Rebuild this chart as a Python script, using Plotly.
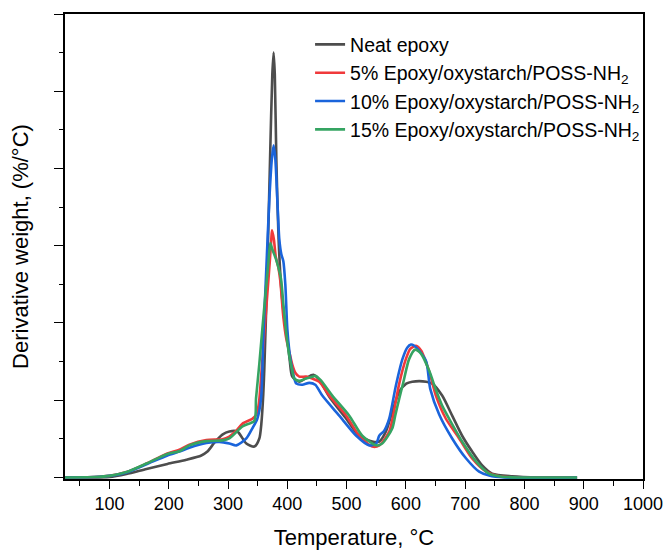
import plotly.graph_objects as go

# ---------------- data ----------------
T_neat = [24.2, 49.4, 100, 128.7, 162.4, 197.8, 229.8, 255, 265.2, 277, 290.5, 302.2, 315.7, 330.9,
          344.4, 352.8, 356.2, 359.5, 361.2, 366.3, 371.3, 374.7, 376.9, 378.9, 381.5, 385.3, 389.9,
          394.9, 400, 404.2, 408.4, 420.2, 432, 443.8, 453.9, 470.8, 499.4, 521.3, 543.3, 555.1, 566.9,
          577, 588.8, 600.6, 610.7, 634.3, 644.4, 661.2, 678.1, 694.9, 711.8, 728.7, 745.5, 779.2,
          824.7, 888.8]
D_neat = [0, 0, 0.001, 0.009, 0.022, 0.035, 0.046, 0.057, 0.067, 0.090, 0.111, 0.119, 0.119, 0.088,
          0.080, 0.101, 0.139, 0.217, 0.281, 0.540, 0.849, 1.043, 1.100, 1.043, 0.824, 0.617, 0.488,
          0.411, 0.359, 0.302, 0.261, 0.248, 0.258, 0.266, 0.253, 0.209, 0.152, 0.108, 0.093, 0.093,
          0.121, 0.170, 0.222, 0.243, 0.248, 0.248, 0.243, 0.212, 0.160, 0.108, 0.067, 0.031, 0.010,
          0.003, 0, 0]

T_5 = [24.2, 74.7, 100, 128.7, 162.4, 197.8, 218, 234.8, 263.5, 290.5, 302.2, 314, 324.2, 341, 347.8,
       352, 356.2, 361.2, 366.3, 370.5, 373, 374.2, 377.3, 380.6, 384.8, 388.2, 393.3, 398.3, 403.4,
       408.4, 413.5, 420.2, 432, 442.1, 453.9, 470.8, 499.4, 521.3, 543.3, 555.1, 572, 577.5, 588.8,
       600.1, 607.4, 617, 625.9, 639.4, 650.6, 667.5, 689.9, 711.8, 735.4, 757.3, 782.6, 888.8]
D_5 = [0, 0.001, 0.004, 0.014, 0.036, 0.062, 0.072, 0.085, 0.097, 0.099, 0.106, 0.121, 0.139, 0.152,
       0.163, 0.191, 0.269, 0.372, 0.475, 0.560, 0.617, 0.640, 0.617, 0.571, 0.545, 0.509, 0.416,
       0.359, 0.325, 0.292, 0.271, 0.261, 0.261, 0.256, 0.248, 0.212, 0.160, 0.108, 0.080, 0.083,
       0.119, 0.152, 0.243, 0.307, 0.333, 0.341, 0.328, 0.274, 0.212, 0.152, 0.101, 0.049, 0.015,
       0.003, 0, 0]

T_10 = [24.2, 74.7, 100, 128.7, 162.4, 197.8, 218, 234.8, 263.5, 285.4, 302.2, 314, 330.9, 341, 349.4,
        355.7, 359.5, 364.6, 369.7, 373.9, 376.9, 379.8, 383.1, 386.5, 389.9, 393.3, 396.6, 400, 403.4,
        406.8, 411, 415.2, 425.3, 437.1, 447.2, 459, 487.6, 516.3, 538.2, 550, 555.1, 563.5, 571.9,
        583.2, 594.3, 602.2, 608.5, 614.1, 622.5, 634.4, 641, 656.2, 678.1, 701.7, 723.6, 740.5,
        765.7, 888.8]
D_10 = [0, 0.001, 0.004, 0.013, 0.034, 0.057, 0.067, 0.077, 0.089, 0.092, 0.088, 0.083, 0.101, 0.127,
        0.152, 0.204, 0.359, 0.540, 0.720, 0.824, 0.860, 0.824, 0.720, 0.617, 0.578, 0.560, 0.501,
        0.385, 0.328, 0.292, 0.261, 0.243, 0.240, 0.245, 0.240, 0.212, 0.160, 0.108, 0.083, 0.088,
        0.108, 0.121, 0.152, 0.238, 0.307, 0.336, 0.344, 0.341, 0.328, 0.300, 0.230, 0.163, 0.101,
        0.049, 0.015, 0.005, 0, 0]

T_15 = [24.2, 74.7, 100, 128.7, 162.4, 197.8, 218, 234.8, 263.5, 290.5, 302.2, 324.2, 344.4, 347.2,
        352.8, 357.9, 362.9, 368, 371.3, 374.7, 381, 384.8, 389.4, 393.3, 398.3, 403.4, 408.4, 411.8,
        420.2, 431.5, 442.1, 448.4, 457.3, 475.8, 504.5, 526.4, 550, 560.1, 577, 582, 588.8, 595.5,
        605.6, 615.7, 625.8, 639.4, 651.1, 661.2, 673, 694.9, 718.5, 740.4, 762.3, 791, 888.8]
D_15 = [0, 0.001, 0.004, 0.014, 0.036, 0.061, 0.068, 0.083, 0.094, 0.096, 0.101, 0.132, 0.147, 0.204,
        0.294, 0.385, 0.470, 0.555, 0.607, 0.591, 0.565, 0.545, 0.514, 0.449, 0.372, 0.315, 0.276,
        0.256, 0.250, 0.256, 0.261, 0.263, 0.250, 0.212, 0.160, 0.108, 0.083, 0.088, 0.127, 0.160,
        0.204, 0.245, 0.307, 0.331, 0.320, 0.276, 0.225, 0.186, 0.152, 0.093, 0.041, 0.010, 0.002,
        0, 0]

names = ["Neat epoxy",
         "5% Epoxy/oxystarch/POSS-NH<sub>2</sub>",
         "10% Epoxy/oxystarch/POSS-NH<sub>2</sub>",
         "15% Epoxy/oxystarch/POSS-NH<sub>2</sub>"]
colors = ["#4d4d4d", "#f0393b", "#1a64db", "#35a462"]
series = [(T_neat, D_neat), (T_5, D_5), (T_10, D_10), (T_15, D_15)]

FONT = "Arial, Liberation Sans, Helvetica, sans-serif"

fig = go.Figure()
for (t, d), n, c in zip(series, names, colors):
    fig.add_trace(go.Scatter(x=t, y=d, mode="lines", name=n,
                             line=dict(color=c, width=2.6, shape="spline", smoothing=0.7)))

fig.update_layout(
    width=667, height=550,
    margin=dict(l=65, r=24, t=14, b=71),
    paper_bgcolor="white", plot_bgcolor="white",
    font=dict(family=FONT, color="black"),
    showlegend=True,
    legend=dict(x=0.424, y=0.976, xanchor="left", yanchor="top",
                bgcolor="rgba(0,0,0,0)", font=dict(size=19.5, family=FONT, color="black"),
                tracegroupgap=0, itemwidth=30),
)

fig.update_xaxes(
    range=[25, 1000], tick0=0, dtick=100,
    showline=True, linecolor="black", linewidth=1.6, mirror=True,
    ticks="outside", ticklen=8, tickwidth=1.4, tickcolor="black",
    minor=dict(dtick=50, ticks="outside", ticklen=5, tickwidth=1.4, tickcolor="black"),
    tickfont=dict(size=18, family=FONT, color="black"),
    showgrid=False, zeroline=False,
    title=dict(text="Temperature, °C", font=dict(size=22, family=FONT, color="black"), standoff=16),
    automargin=False,
)
fig.update_yaxes(
    range=[-0.004, 1.2], tick0=0, dtick=0.2,
    showline=True, linecolor="black", linewidth=1.6, mirror=True,
    ticks="outside", ticklen=9, tickwidth=1.4, tickcolor="black",
    minor=dict(dtick=0.1, ticks="outside", ticklen=4, tickwidth=1.4, tickcolor="black"),
    showticklabels=False,
    showgrid=False, zeroline=False,
    title=dict(text="Derivative weight, (%/°C)", font=dict(size=22, family=FONT, color="black"), standoff=20),
    automargin=False,
)

fig.write_html("out.html",
               config={"displayModeBar": False},
               post_script="document.body.style.margin='0';document.body.style.padding='0';")
